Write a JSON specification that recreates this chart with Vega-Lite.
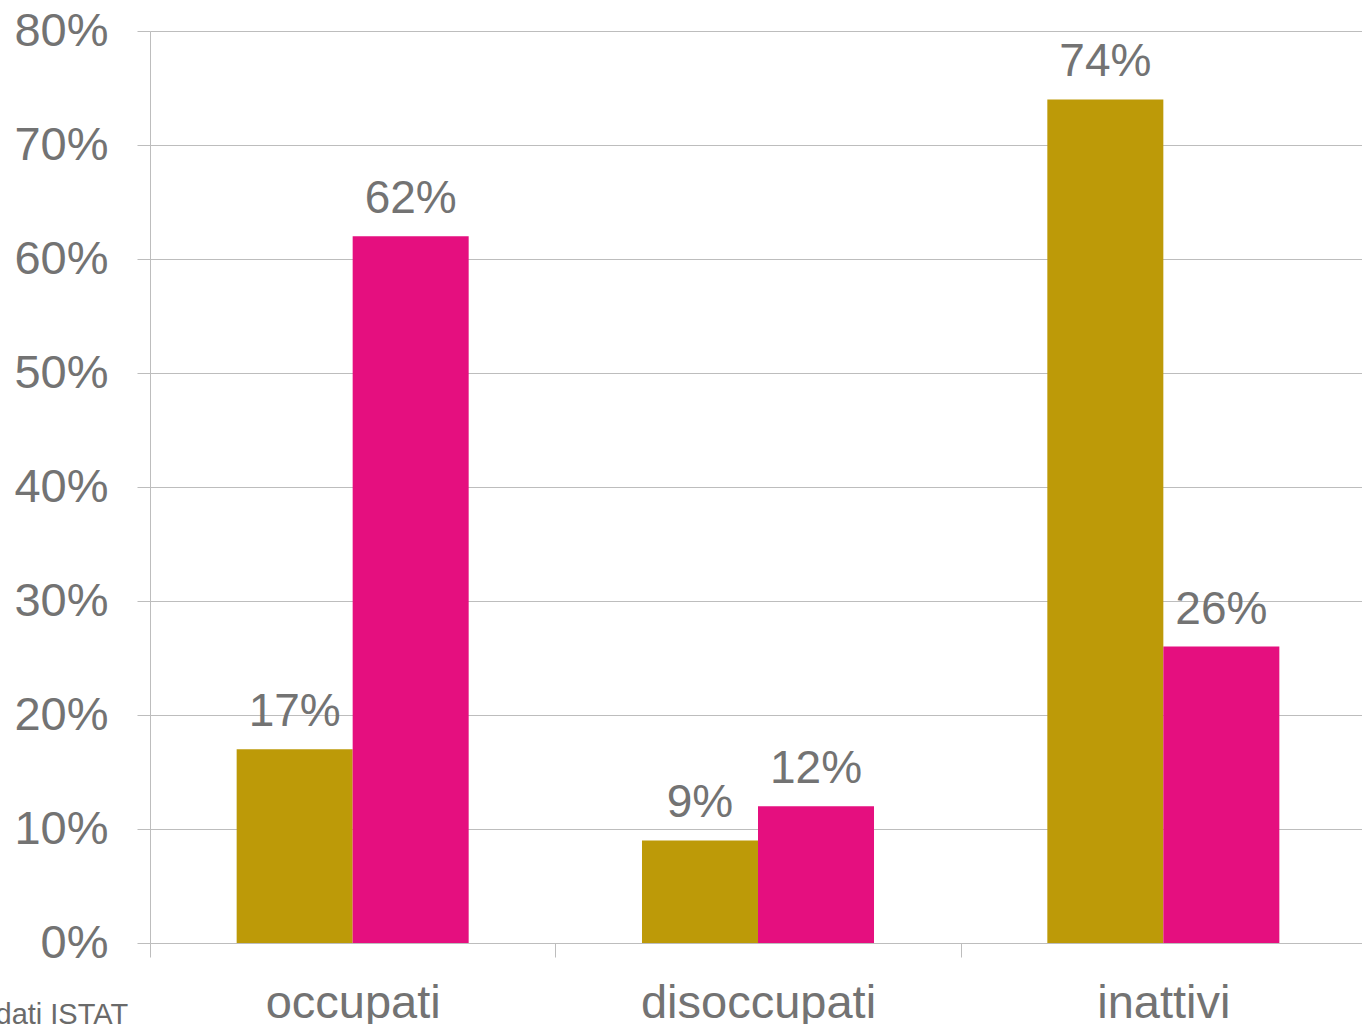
{
  "$schema": "https://vega.github.io/schema/vega-lite/v6.json",
  "autosize": "none",
  "padding": {"left": 150, "top": 31, "right": 0, "bottom": 81},
  "width": 1216,
  "height": 912,
  "background": "white",
  "config": {
    "view": {"stroke": null},
    "font": "Liberation Sans",
    "axis": {"labelFont": "Liberation Sans", "titleFont": "Liberation Sans"}
  },
  "data": {
    "values": [
      {"categoria": "occupati", "gruppo": "gruppo 1", "valore": 0.17},
      {"categoria": "occupati", "gruppo": "gruppo 2", "valore": 0.62},
      {"categoria": "disoccupati", "gruppo": "gruppo 1", "valore": 0.09},
      {"categoria": "disoccupati", "gruppo": "gruppo 2", "valore": 0.12},
      {"categoria": "inattivi", "gruppo": "gruppo 1", "valore": 0.74},
      {"categoria": "inattivi", "gruppo": "gruppo 2", "valore": 0.26}
    ]
  },
  "encoding": {
    "x": {
      "field": "categoria",
      "type": "nominal",
      "sort": ["occupati", "disoccupati", "inattivi"],
      "scale": {"paddingInner": 0, "paddingOuter": 0},
      "axis": {
        "title": "dati ISTAT",
        "titleX": -155,
        "titleY": 80,
        "titleAlign": "left",
        "titleBaseline": "alphabetic",
        "titleAnchor": null,
        "titleFontSize": 29,
        "titleFontWeight": "normal",
        "titleColor": "#6a6a6a",
        "labelAngle": 0,
        "labelFontSize": 47,
        "labelColor": "#737373",
        "labelBaseline": "alphabetic",
        "labelPadding": 60,
        "labelLimit": 0,
        "tickBand": "extent",
        "tickSize": 14,
        "tickColor": "#BDBDBD",
        "domainColor": "#BDBDBD",
        "grid": false
      }
    },
    "xOffset": {"field": "gruppo", "type": "nominal", "scale": {"paddingInner": 0, "paddingOuter": 0.747}},
    "y": {
      "field": "valore",
      "type": "quantitative",
      "scale": {"domain": [0, 0.8], "nice": false},
      "axis": {
        "title": null,
        "values": [0, 0.1, 0.2, 0.3, 0.4, 0.5, 0.6, 0.7, 0.8],
        "format": ".0%",
        "labelFontSize": 47,
        "labelColor": "#737373",
        "labelPadding": 29,
        "tickSize": 13,
        "tickColor": "#BDBDBD",
        "domainColor": "#BDBDBD",
        "gridColor": "#BDBDBD",
        "gridWidth": 1
      }
    }
  },
  "layer": [
    {
      "mark": {"type": "bar"},
      "encoding": {
        "color": {
          "field": "gruppo",
          "type": "nominal",
          "scale": {"domain": ["gruppo 1", "gruppo 2"], "range": ["#BD9A08", "#E50F7F"]},
          "legend": null
        }
      }
    },
    {
      "mark": {"type": "text", "baseline": "alphabetic", "dy": -23, "fontSize": 46, "color": "#737373", "font": "Liberation Sans"},
      "encoding": {
        "text": {"field": "valore", "type": "quantitative", "format": ".0%"}
      }
    }
  ]
}
